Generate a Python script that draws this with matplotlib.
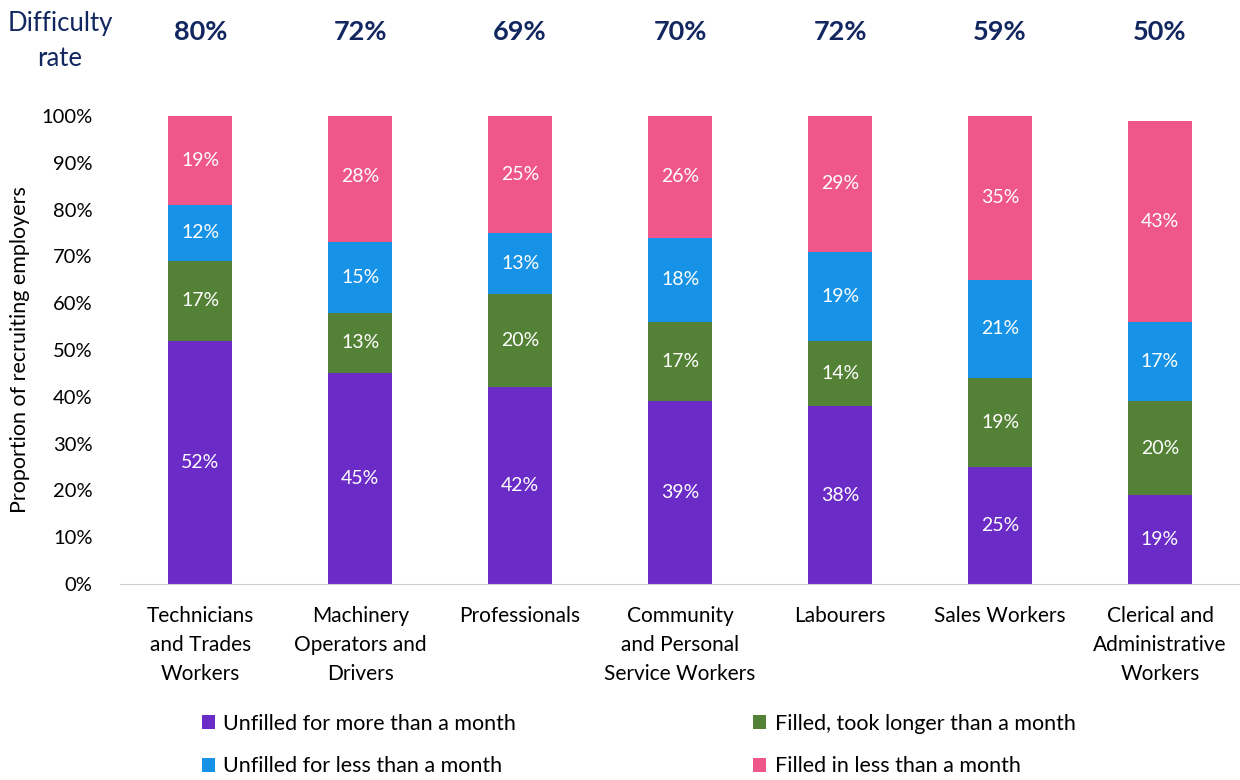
import numpy as np
import matplotlib.pyplot as plt

plt.rcParams['font.family'] = ['Lato', 'DejaVu Sans']

categories = ['Technicians\nand Trades\nWorkers', 'Machinery\nOperators and\nDrivers', 'Professionals',
              'Community\nand Personal\nService Workers', 'Labourers', 'Sales Workers',
              'Clerical and\nAdministrative\nWorkers']
difficulty = [80, 72, 69, 70, 72, 59, 50]

unfilled_more = [52, 45, 42, 39, 38, 25, 19]
filled_longer = [17, 13, 20, 17, 14, 19, 20]
unfilled_less = [12, 15, 13, 18, 19, 21, 17]
filled_less = [19, 28, 25, 26, 29, 35, 43]

series = [
    ('Unfilled for more than a month', unfilled_more, '#6A2BC7'),
    ('Filled, took longer than a month', filled_longer, '#538135'),
    ('Unfilled for less than a month', unfilled_less, '#1692E6'),
    ('Filled in less than a month', filled_less, '#EF568A'),
]

navy = '#12275F'

fig = plt.figure(figsize=(12.4, 7.8), dpi=100)
ax = fig.add_axes([0.097, 0.2513, 0.903, 0.6])

ind = np.arange(len(categories))
width = 0.4
bottom = np.zeros(len(categories))
handles = {}
for name, vals, col in series:
    bars = ax.bar(ind, vals, width, bottom=bottom, color=col, label=name)
    handles[name] = bars
    for b, v, b0 in zip(bars, vals, bottom):
        ax.text(b.get_x() + b.get_width() / 2, b0 + v / 2, "{}%".format(v),
                ha='center', va='center', color='white', fontsize=14)
    bottom = bottom + np.array(vals)

ax.set_xlim(-0.5, len(categories) - 0.5)
ax.set_ylim(0, 100)
ax.set_yticks(np.arange(0, 101, 10))
ax.set_yticklabels(["{}%".format(t) for t in range(0, 101, 10)], fontsize=14.5)
ax.set_xticks(ind)
ax.set_xticklabels(categories, fontsize=15, linespacing=1.55)
ax.tick_params(axis='both', length=0)
ax.tick_params(axis='x', pad=16)
ax.tick_params(axis='y', pad=20)
for s in ['top', 'right', 'left']:
    ax.spines[s].set_visible(False)
ax.spines['bottom'].set_color('#D0D0D0')
ax.set_ylabel('Proportion of recruiting employers', fontsize=15.5, labelpad=8)

# difficulty rates above bars
for i, d in enumerate(difficulty):
    x_fig = ax.transData.transform((i, 0))[0] / fig.dpi / 12.4
    fig.text(x_fig, 1 - 32 / 780, "{}%".format(d), ha='center', va='center',
             fontsize=19.5, fontweight='bold', color=navy)
fig.text(60 / 1240, 1 - 41 / 780, 'Difficulty\nrate', ha='center', va='center',
         fontsize=18.5, color=navy, linespacing=1.5)

order = ['Unfilled for more than a month', 'Unfilled for less than a month',
         'Filled, took longer than a month', 'Filled in less than a month']
leg = fig.legend([handles[n] for n in order], order, loc='center',
                 bbox_to_anchor=(0.515, 1 - 745 / 780), ncol=2, frameon=False,
                 fontsize=15.5, handlelength=0.6, handleheight=0.6, handletextpad=0.4,
                 columnspacing=11.0, labelspacing=1.05)

fig.savefig('out.png', dpi=100)
